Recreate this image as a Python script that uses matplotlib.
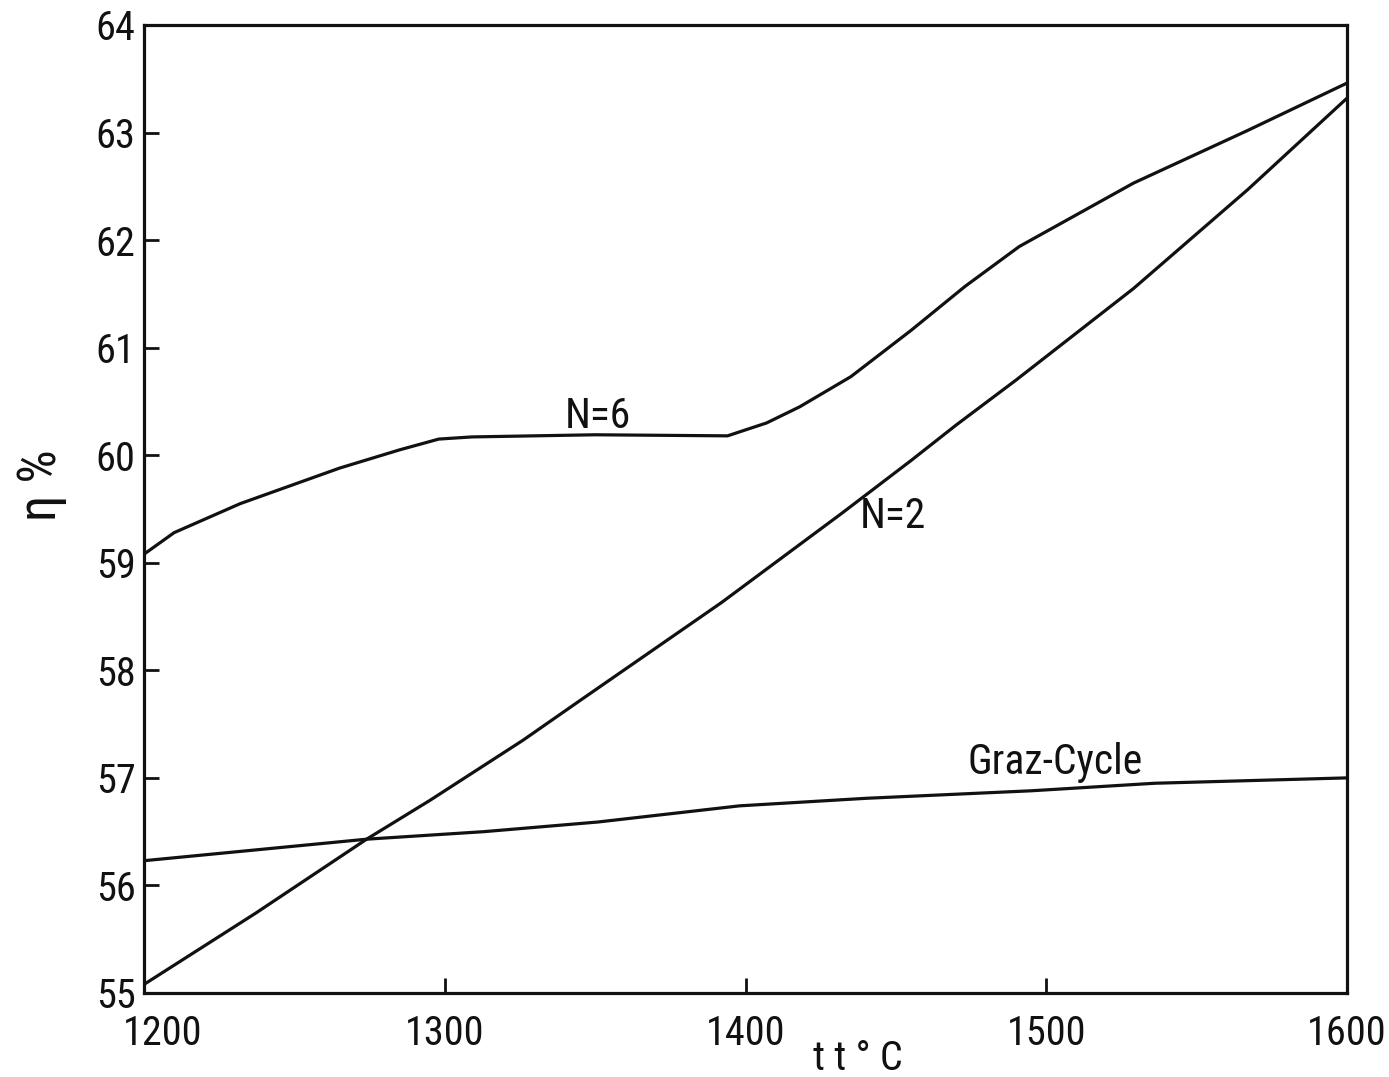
import matplotlib
matplotlib.use("Agg")
import matplotlib.pyplot as plt
from matplotlib import font_manager
import matplotlib.transforms as mtransforms

# ---- data ----
t_n6 = [1200, 1210, 1232, 1265, 1285, 1298, 1309, 1350, 1394, 1407, 1418, 1435,
        1455, 1473, 1491, 1529, 1567, 1600]
eta_n6 = [59.08, 59.28, 59.55, 59.88, 60.05, 60.15, 60.17, 60.19, 60.18, 60.30,
          60.45, 60.73, 61.16, 61.57, 61.94, 62.53, 63.02, 63.46]

t_n2 = [1200, 1237, 1274, 1295, 1326, 1345, 1392, 1432, 1455, 1470, 1490, 1529,
        1567, 1600]
eta_n2 = [55.08, 55.74, 56.43, 56.79, 57.35, 57.72, 58.63, 59.46, 59.95, 60.28,
          60.70, 61.55, 62.47, 63.32]

t_graz = [1200, 1237, 1274, 1313, 1351, 1398, 1440, 1495, 1536, 1600]
eta_graz = [56.23, 56.33, 56.43, 56.50, 56.59, 56.74, 56.81, 56.88, 56.95, 57.00]

x_ticks = [1200, 1300, 1400, 1500, 1600]
y_ticks = [55, 56, 57, 58, 59, 60, 61, 62, 63, 64]

labels = ["N=6", "N=2", "Graz-Cycle"]
label_pos = [(1351, 60.36), (1449, 59.43), (1503, 57.14)]

# ---- font ----
entries = font_manager.fontManager.ttflist
names = {f.name for f in entries}
if "Liberation Sans Narrow" in names:
    fam = ["Liberation Sans Narrow", "DejaVu Sans"]
elif "Roboto Condensed" in names:
    fam = ["Roboto Condensed", "DejaVu Sans"]
else:
    fam = ["Roboto", "DejaVu Sans"]
fs = 29
plt.rcParams['font.family'] = fam
plt.rcParams['font.size'] = fs

ink = "#111111"
fig = plt.figure(figsize=(13.89, 10.77), dpi=100)
ax = fig.add_axes([0.1037, 0.078, 0.8661, 0.8988])

for t, e in [(t_n6, eta_n6), (t_n2, eta_n2), (t_graz, eta_graz)]:
    ax.plot(t, e, color=ink, lw=2.3, solid_joinstyle='round')

for s, (tx, ty) in zip(labels, label_pos):
    ax.text(tx, ty, s, ha='center', va='center', color=ink, fontsize=fs + 1)

ax.set_xlim(1200, 1600)
ax.set_ylim(55, 64)
ax.set_xticks(x_ticks)
ax.set_yticks(y_ticks)
ax.set_xticklabels([str(v) for v in x_ticks])
ax.set_yticklabels([str(v) for v in y_ticks])
ax.tick_params(direction='in', length=11, width=2, color=ink, labelcolor=ink,
               top=False, right=False, labelsize=fs)
ax.tick_params(axis='y', pad=6)
ax.tick_params(axis='x', pad=15)

# shift the first x tick label right, as in the reference
lbl0 = ax.get_xticklabels()[0]
lbl0.set_transform(lbl0.get_transform() +
                   mtransforms.ScaledTranslation(0.19, 0, fig.dpi_scale_trans))

for sp in ax.spines.values():
    sp.set_linewidth(2.3)
    sp.set_color(ink)

ax.set_xlabel("t t ° C", fontsize=fs, color=ink)
ax.xaxis.label.set_va('center')
ax.xaxis.set_label_coords(0.593, -0.068)
ax.set_ylabel("η %", fontsize=38, color=ink)
ax.yaxis.label.set_va('center')
ax.yaxis.set_label_coords(-0.085, 0.525)

fig.savefig("out.png", dpi=100, facecolor='white')
